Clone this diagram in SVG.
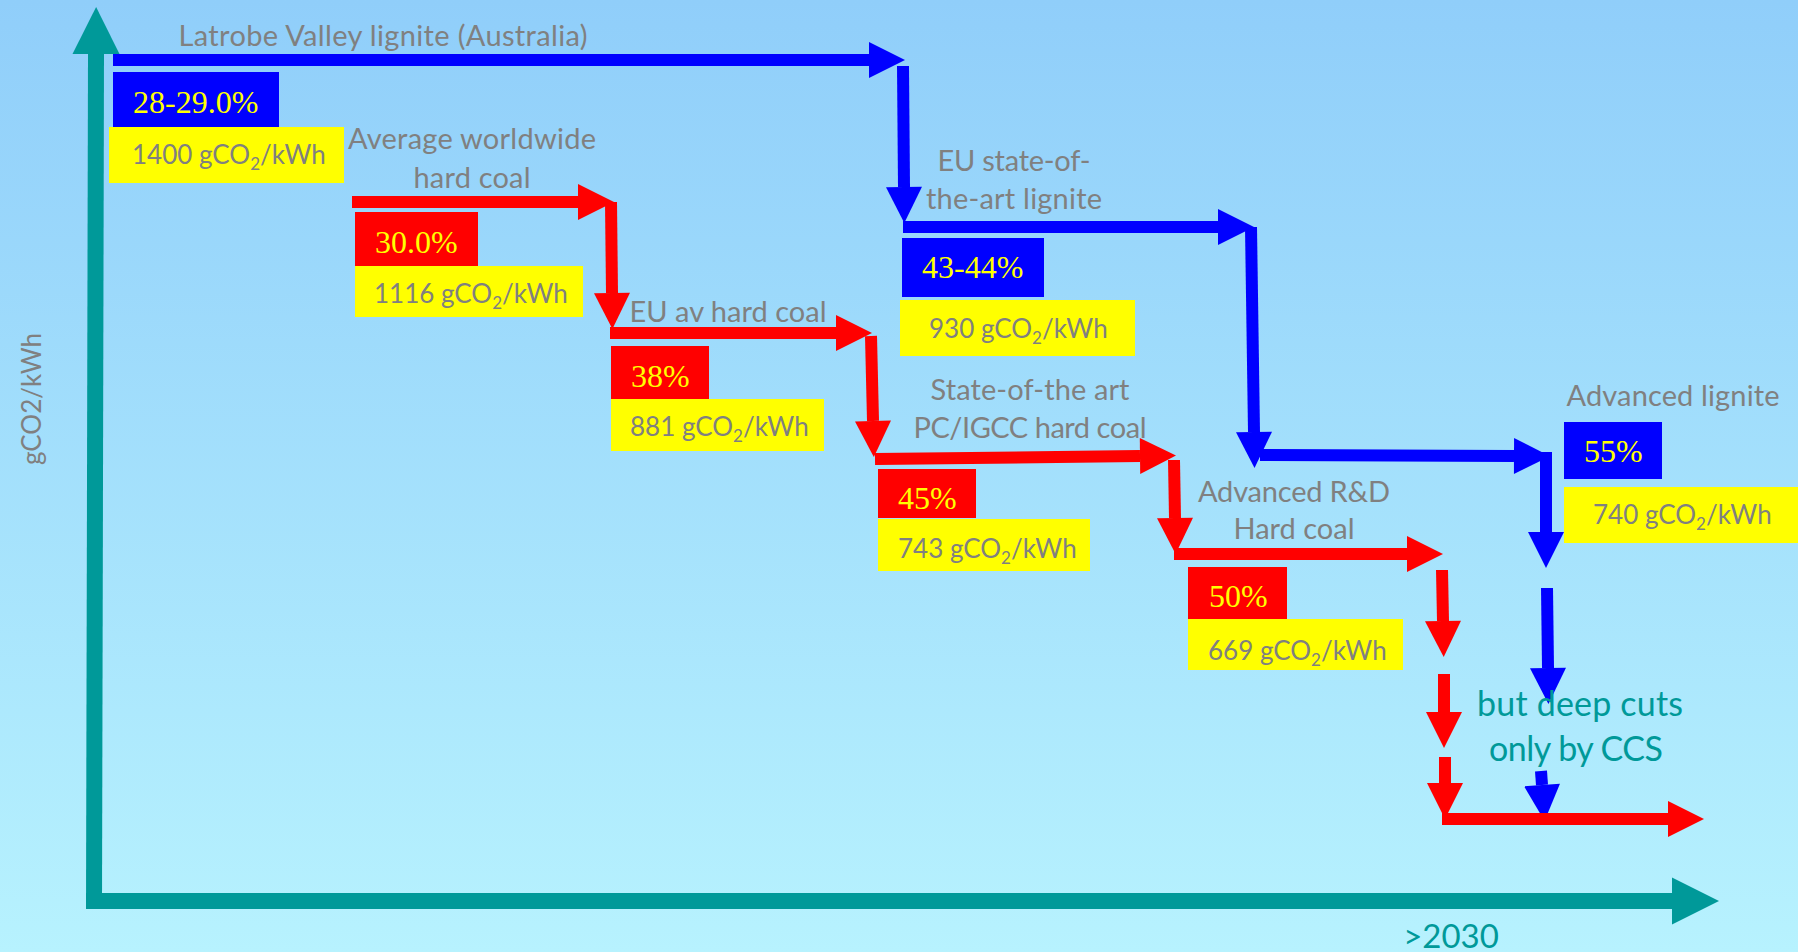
<svg xmlns="http://www.w3.org/2000/svg" width="1798" height="952" viewBox="0 0 1798 952">
<defs>
<linearGradient id="bg" x1="0" y1="0" x2="0" y2="1">
<stop offset="0" stop-color="#90CEFA"/>
<stop offset="1" stop-color="#B7F2FE"/>
</linearGradient>
<marker id="hb" markerUnits="userSpaceOnUse" markerWidth="36" markerHeight="36" refX="0" refY="18" orient="auto" overflow="visible"><path d="M0,0 L36,18 L0,36 z" fill="#0000FF"/></marker>
<marker id="hr" markerUnits="userSpaceOnUse" markerWidth="36" markerHeight="36" refX="0" refY="18" orient="auto" overflow="visible"><path d="M0,0 L36,18 L0,36 z" fill="#FF0000"/></marker>
<marker id="ht" markerUnits="userSpaceOnUse" markerWidth="47" markerHeight="47" refX="0" refY="23.5" orient="auto" overflow="visible"><path d="M0,0 L47,23.5 L0,47 z" fill="#009999"/></marker>
</defs>
<style>
.lbl{font-family:Lato,"Liberation Sans",sans-serif;font-size:29px;fill:#808080;text-anchor:middle}
.val{font-family:Lato,"Liberation Sans",sans-serif;font-size:26px;fill:#808080}
.pct{font-family:"Liberation Serif","Times New Roman",serif;font-size:32px;fill:#FFFF00}
.teal{font-family:Lato,"Liberation Sans",sans-serif;fill:#009999}
.bl{stroke:#0000FF;stroke-width:12;fill:none;marker-end:url(#hb)}
.rd{stroke:#FF0000;stroke-width:12;fill:none;marker-end:url(#hr)}
.ax{stroke:#009999;stroke-width:16;fill:none;marker-end:url(#ht)}
.bbox{fill:#0000FF}.rbox{fill:#FF0000}.ybox{fill:#FFFF00}
</style>
<rect width="1798" height="952" fill="url(#bg)"/>

<g id="connectors">
<line class="ax" x1="94" y1="909" x2="96" y2="54"/>
<line class="ax" x1="86" y1="901" x2="1672" y2="901"/>
<line class="bl" x1="113" y1="60" x2="869" y2="60"/>
<line class="bl" x1="903" y1="66" x2="904" y2="187"/>
<line class="bl" x1="903" y1="227" x2="1218" y2="227"/>
<line class="bl" x1="1251" y1="227" x2="1254" y2="432"/>
<line class="bl" x1="1260" y1="455" x2="1514" y2="456"/>
<line class="bl" x1="1546" y1="452" x2="1546" y2="532"/>
<line class="bl" x1="1547" y1="588" x2="1548" y2="668"/>
<line class="bl" x1="1541" y1="771" x2="1542" y2="785"/>
<line class="rd" x1="352" y1="202" x2="578" y2="202"/>
<line class="rd" x1="611" y1="202" x2="612" y2="293"/>
<line class="rd" x1="610" y1="333" x2="836" y2="333"/>
<line class="rd" x1="871" y1="336" x2="873" y2="421"/>
<line class="rd" x1="875" y1="459" x2="1140" y2="456"/>
<line class="rd" x1="1174" y1="460" x2="1175" y2="518"/>
<line class="rd" x1="1174" y1="554" x2="1407" y2="554"/>
<line class="rd" x1="1442" y1="570" x2="1443" y2="621"/>
<line class="rd" x1="1444" y1="674" x2="1444" y2="712"/>
<line class="rd" x1="1445" y1="757" x2="1445" y2="783"/>
<line class="rd" x1="1442" y1="819" x2="1668" y2="819"/>
</g>

<g id="axis-labels">
<text class="val" font-size="31" text-anchor="middle" transform="translate(41,399) rotate(-90)">gCO2/kWh</text>
<text class="teal" x="1451" y="948" font-size="33" text-anchor="middle">&gt;2030</text>
</g>

<g id="n-latrobe">
<text class="lbl" x="383" y="46" textLength="409">Latrobe Valley lignite (Australia)</text>
<rect class="bbox" x="113" y="72" width="166" height="55"/>
<text class="pct" x="133" y="113">28-29.0%</text>
<rect class="ybox" x="109" y="127" width="235" height="56"/>
<text class="val" x="132" y="164">1400 gCO<tspan font-size="17" dy="6">2</tspan><tspan dy="-6">/kWh</tspan></text>
</g>

<g id="n-avg-worldwide">
<text class="lbl" x="472" y="149" textLength="248">Average worldwide</text>
<text class="lbl" x="472" y="188" textLength="117">hard coal</text>
<rect class="rbox" x="355" y="212" width="123" height="54"/>
<text class="pct" x="375" y="253">30.0%</text>
<rect class="ybox" x="355" y="266" width="228" height="51"/>
<text class="val" x="374" y="303">1116 gCO<tspan font-size="17" dy="6">2</tspan><tspan dy="-6">/kWh</tspan></text>
</g>

<g id="n-eu-av">
<text class="lbl" x="728" y="322" textLength="197">EU av hard coal</text>
<rect class="rbox" x="611" y="346" width="98" height="53"/>
<text class="pct" x="631" y="387">38%</text>
<rect class="ybox" x="611" y="399" width="213" height="52"/>
<text class="val" x="630" y="436">881 gCO<tspan font-size="17" dy="6">2</tspan><tspan dy="-6">/kWh</tspan></text>
</g>

<g id="n-eu-lignite">
<text class="lbl" x="1014" y="171" textLength="153">EU state-of-</text>
<text class="lbl" x="1014" y="209" textLength="176">the-art lignite</text>
<rect class="bbox" x="902" y="238" width="142" height="59"/>
<text class="pct" x="922" y="278">43-44%</text>
<rect class="ybox" x="900" y="300" width="235" height="56"/>
<text class="val" x="929" y="338">930 gCO<tspan font-size="17" dy="6">2</tspan><tspan dy="-6">/kWh</tspan></text>
</g>

<g id="n-state-art">
<text class="lbl" x="1030" y="400" textLength="199">State-of-the art</text>
<text class="lbl" x="1030" y="438" textLength="233">PC/IGCC hard coal</text>
<rect class="rbox" x="878" y="469" width="98" height="49"/>
<text class="pct" x="898" y="509">45%</text>
<rect class="ybox" x="878" y="519" width="212" height="52"/>
<text class="val" x="898" y="558">743 gCO<tspan font-size="17" dy="6">2</tspan><tspan dy="-6">/kWh</tspan></text>
</g>

<g id="n-adv-rd">
<text class="lbl" x="1294" y="502" textLength="192">Advanced R&amp;D</text>
<text class="lbl" x="1294" y="539" textLength="121">Hard coal</text>
<rect class="rbox" x="1188" y="567" width="99" height="52"/>
<text class="pct" x="1209" y="607">50%</text>
<rect class="ybox" x="1188" y="619" width="215" height="51"/>
<text class="val" x="1208" y="660">669 gCO<tspan font-size="17" dy="6">2</tspan><tspan dy="-6">/kWh</tspan></text>
</g>

<g id="n-adv-lignite">
<text class="lbl" x="1673" y="406" textLength="213">Advanced lignite</text>
<rect class="bbox" x="1564" y="422" width="98" height="57"/>
<text class="pct" x="1584" y="462">55%</text>
<rect class="ybox" x="1564" y="487" width="234" height="56"/>
<text class="val" x="1593" y="524">740 gCO<tspan font-size="17" dy="6">2</tspan><tspan dy="-6">/kWh</tspan></text>
</g>

<g id="n-ccs">
<text class="teal" x="1580" y="716" font-size="34" text-anchor="middle" textLength="206">but deep cuts</text>
<text class="teal" x="1576" y="761" font-size="34" text-anchor="middle" textLength="174">only by CCS</text>
</g>
</svg>
